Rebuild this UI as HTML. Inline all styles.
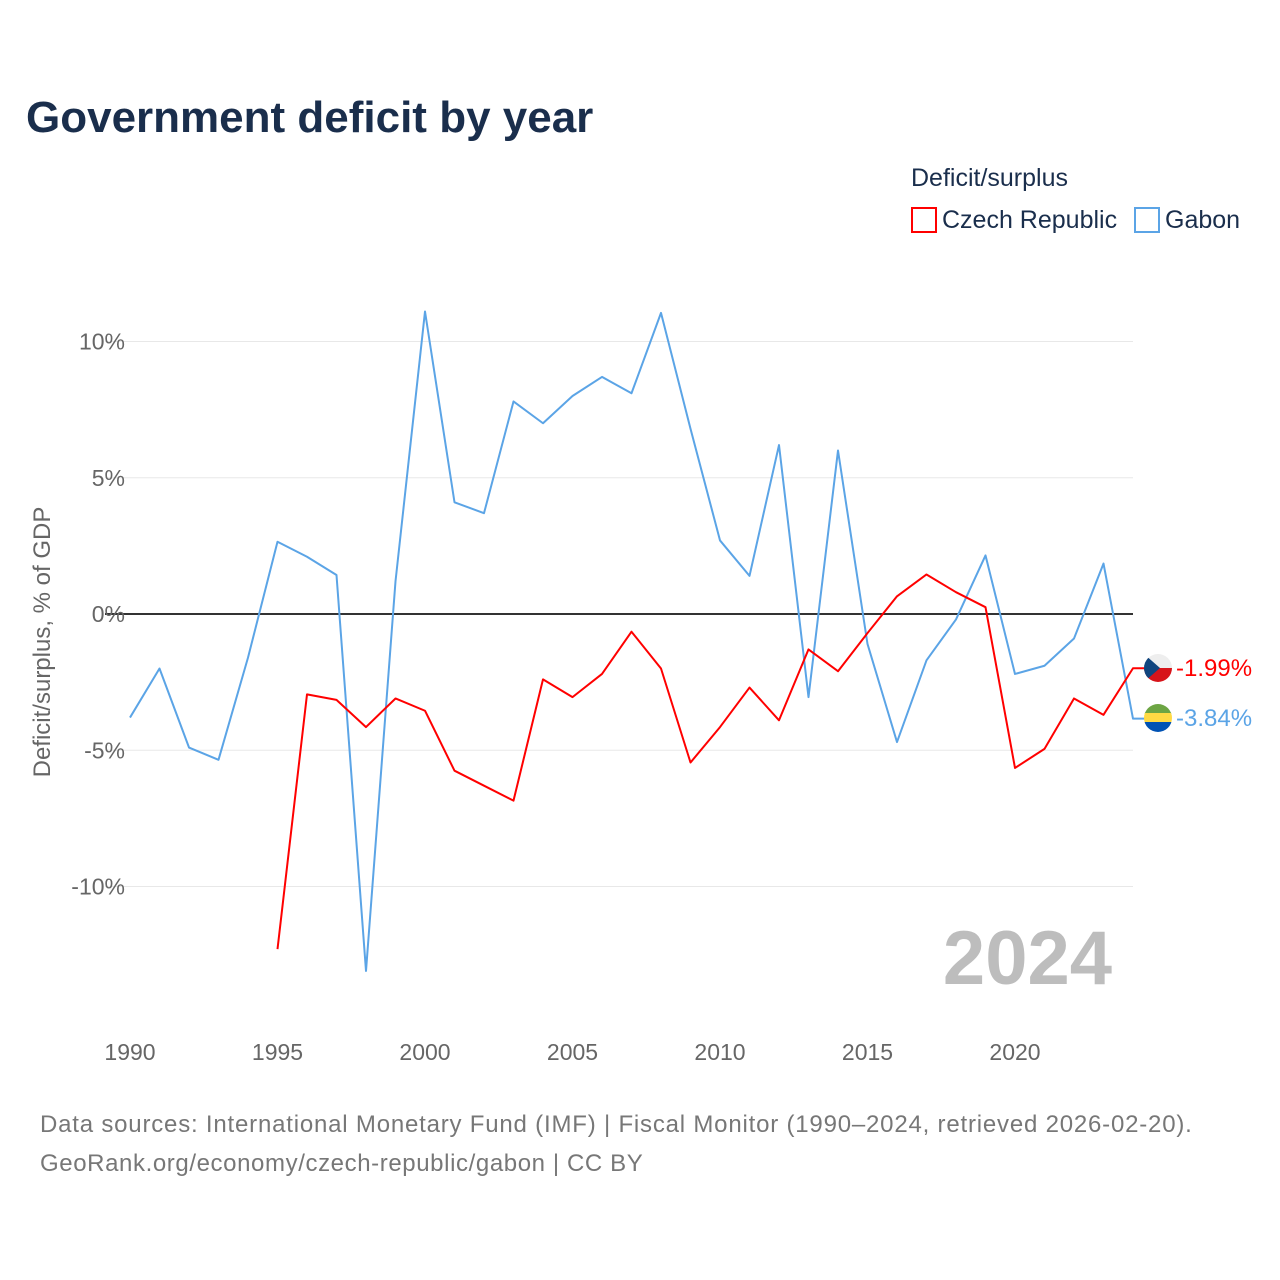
<!DOCTYPE html>
<html><head><meta charset="utf-8"><style>
body{margin:0;background:#fff;font-family:"Liberation Sans",sans-serif}
</style></head><body>
<svg id="chart" width="1280" height="1280" xmlns="http://www.w3.org/2000/svg" style="display:block">
<defs>
<clipPath id="cf1"><circle cx="1158" cy="668" r="14"/></clipPath>
<clipPath id="cf2"><circle cx="1158" cy="718" r="14"/></clipPath>
</defs>
<text x="26" y="132" font-size="44" font-weight="bold" fill="#1a2e4c">Government deficit by year</text>
<text x="911" y="186" font-size="25" fill="#1a2e4c">Deficit/surplus</text>
<g><rect x="912" y="208" width="24" height="24" fill="none" stroke="#ff0000" stroke-width="2"/><text x="942" y="228" font-size="25" fill="#1a2e4c">Czech Republic</text></g>
<g><rect x="1135" y="208" width="24" height="24" fill="none" stroke="#5ba4e6" stroke-width="2"/><text x="1165" y="228" font-size="25" fill="#1a2e4c">Gabon</text></g>
<text transform="translate(50,642) rotate(-90)" text-anchor="middle" font-size="24" fill="#666">Deficit/surplus, % of GDP</text>
<text x="1112" y="984" text-anchor="end" font-size="76" font-weight="bold" fill="#bdbdbd">2024</text>
<g id="grid"></g><g id="series"></g>
<g clip-path="url(#cf1)"><rect x="1144" y="654" width="28" height="14" fill="#eee"/><rect x="1144" y="668" width="28" height="14" fill="#d7141a"/><polygon points="1144,654 1160,668 1144,682" fill="#11457e"/></g>
<g clip-path="url(#cf2)"><rect x="1144" y="704" width="28" height="10" fill="#6da544"/><rect x="1144" y="713" width="28" height="10" fill="#ffda44"/><rect x="1144" y="722" width="28" height="10" fill="#0052b4"/></g>
<text x="1176" y="676" font-size="24" fill="#ff0000">-1.99%</text>
<text x="1176" y="726" font-size="24" fill="#5ba4e6">-3.84%</text>
<text x="40" y="1132" font-size="24" fill="#777" letter-spacing="0.8">Data sources: International Monetary Fund (IMF) | Fiscal Monitor (1990–2024, retrieved 2026-02-20).</text>
<text x="40" y="1171" font-size="24" fill="#777" letter-spacing="0.6">GeoRank.org/economy/czech-republic/gabon | CC BY</text>
</svg>
<script>
const gabonYears=[1990,1991,1992,1993,1994,1995,1996,1997,1998,1999,2000,2001,2002,2003,2004,2005,2006,2007,2008,2009,2010,2011,2012,2013,2014,2015,2016,2017,2018,2019,2020,2021,2022,2023,2024];
const gabonValues=[-3.8,-2.0,-4.9,-5.35,-1.6,2.65,2.1,1.43,-13.1,1.2,11.1,4.1,3.7,7.8,7.0,8.0,8.7,8.1,11.05,6.8,2.7,1.4,6.2,-3.05,6.0,-1.1,-4.7,-1.7,-0.2,2.15,-2.2,-1.9,-0.9,1.85,-3.84];
const czechYears=[1995,1996,1997,1998,1999,2000,2001,2002,2003,2004,2005,2006,2007,2008,2009,2010,2011,2012,2013,2014,2015,2016,2017,2018,2019,2020,2021,2022,2023,2024];
const czechValues=[-12.3,-2.95,-3.15,-4.15,-3.1,-3.55,-5.75,-6.3,-6.85,-2.4,-3.05,-2.2,-0.65,-2.0,-5.45,-4.15,-2.7,-3.9,-1.3,-2.1,-0.7,0.65,1.45,0.8,0.25,-5.65,-4.95,-3.1,-3.7,-1.99];
const yTicks=[10,5,0,-5,-10];
const xTicks=[1990,1995,2000,2005,2010,2015,2020];
const NS="http://www.w3.org/2000/svg";
const xs=y=>130+(y-1990)*29.5;
const ys=v=>614-v*27.25;
const grid=document.getElementById('grid'),series=document.getElementById('series');
function mk(tag,attrs,parent){const e=document.createElementNS(NS,tag);for(const k in attrs)e.setAttribute(k,attrs[k]);parent.appendChild(e);return e;}
yTicks.forEach(t=>{
 const l=mk('line',{x1:105,x2:1133,y1:ys(t),y2:ys(t),stroke:t===0?'#333':'#e8e8e8','stroke-width':t===0?2:1},grid);
 
 
 const tx=mk('text',{x:125,y:ys(t)+8,'text-anchor':'end','font-size':23,fill:'#666'},grid);
 tx.textContent=t+'%';
 
 
});
xTicks.forEach(t=>{
 const tx=mk('text',{x:xs(t),y:1060,'text-anchor':'middle','font-size':23,fill:'#666'},grid);
 tx.textContent=t;
 
 
});
function line(years,vals,color,name,endX){
 let pts=years.map((y,i)=>xs(y)+','+ys(vals[i]));
 pts.push(endX+','+ys(vals[vals.length-1]));
 const p=mk('polyline',{points:pts.join(' '),fill:'none',stroke:color,'stroke-width':2,'stroke-linejoin':'round'},series);
 
 
}
line(gabonYears,gabonValues,'#5ba4e6','gabon-line',1145);
line(czechYears,czechValues,'#ff0000','czech-line',1145);
</script>
</body></html>
